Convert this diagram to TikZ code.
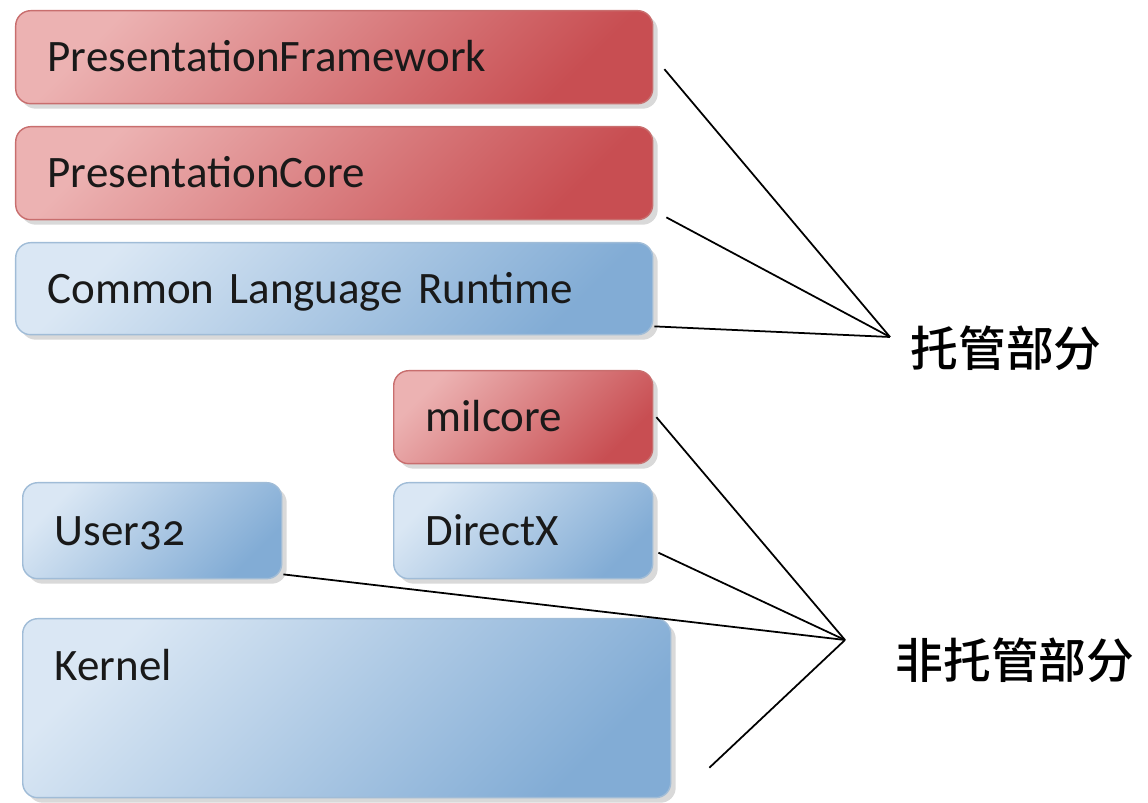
\documentclass[tikz,border=0pt]{standalone}
\usepackage{fontspec}
\setmainfont{Carlito}[Numbers=OldStyle]
\newfontfamily\cjk{Noto Sans CJK SC Medium}
\usetikzlibrary{shadows}
\definecolor{redlight}{RGB}{236,178,178}
\definecolor{reddark}{RGB}{200,78,82}
\definecolor{redline}{RGB}{200,110,110}
\definecolor{bluelight}{RGB}{218,231,244}
\definecolor{bluedark}{RGB}{130,172,213}
\definecolor{blueline}{RGB}{160,188,215}
\definecolor{textgrey}{RGB}{25,25,25}

\begin{document}
\begin{tikzpicture} [
			box/.style={rectangle, rounded corners=1.5mm, anchor=north west, inner xsep=3.2mm, inner ysep=0pt,
				align=left, text height=8.2pt, text depth=0pt, text=textgrey,
				font=\fontsize{12.8}{15}\selectfont,
				drop shadow={shadow xshift=0.5mm, shadow yshift=-0.5mm, opacity=0.3}},
			redbox/.style={box, draw=redline, top color=redlight, bottom color=reddark, shading angle=45},
			bluebox/.style={box, draw=blueline, top color=bluelight, bottom color=bluedark, shading angle=45},
			link/.style={line width=0.5pt},
			part/.style={font=\cjk\fontsize{13.6}{16}\selectfont}
		]
		\useasboundingbox (0,0) rectangle (11.48,8.03);
		
		% managed layers
		\node at (0.15,7.93) [redbox, text width=5.73cm, minimum height=0.93cm] (pf) {PresentationFramework};
		\node at (0.15,6.77) [redbox, text width=5.73cm, minimum height=0.93cm] (pc) {PresentationCore};
		\node at (0.15,5.61) [bluebox, text width=5.73cm, minimum height=0.92cm] (clr) {Common Language Runtime};
		
		% unmanaged layers
		\node at (3.93,4.33) [redbox, text width=1.95cm, minimum height=0.93cm] (mil) {milcore};
		\node at (0.22,3.21) [bluebox, text width=1.95cm, minimum height=0.96cm] (user) {User32};
		\node at (3.93,3.21) [bluebox, text width=1.95cm, minimum height=0.96cm] (dx) {DirectX};
		\node at (0.22,1.85) [bluebox, text width=5.84cm, text height=6.2mm, text depth=11.7mm] (kernel) {Kernel};
		
		\coordinate (mg) at (8.90,4.66);
		\coordinate (um) at (8.45,1.63);
		\node at (10.06,4.55) [part] (mgd) {托管部分};
		\node at (10.15,1.43) [part] (umg) {非托管部分};
		
		\draw [link] ([xshift=1.1mm, yshift=-1.2mm]pf.east) -- (mg);
		\draw [link] ([xshift=1.3mm, yshift=0.3mm]pc.south east) -- (mg);
		\draw [link] ([xshift=0.1mm, yshift=0.9mm]clr.south east) -- (mg);
		\draw [link] ([xshift=0.3mm]mil.east) -- (um);
		\draw [link] ([xshift=0.5mm, yshift=-2.2mm]dx.east) -- (um);
		\draw [link] ([xshift=0.1mm, yshift=0.5mm]user.south east) -- (um);
		\draw [link] ([xshift=3.8mm, yshift=-5.95mm]kernel.east) -- (um);
	\end{tikzpicture}
\end{document}
